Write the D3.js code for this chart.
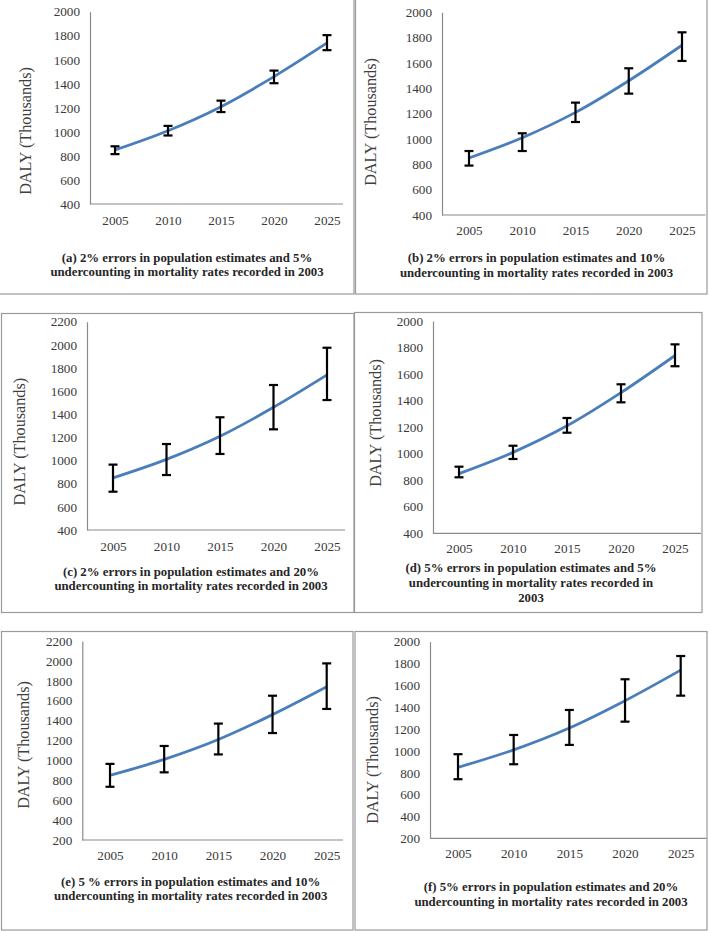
<!DOCTYPE html>
<html>
<head>
<meta charset="utf-8">
<script src="https://cdn.jsdelivr.net/npm/d3@7"></script>
<style>
  html, body { margin: 0; padding: 0; background: #fff; }
  svg { display: block; }
</style>
</head>
<body>
<svg id="chart" width="709" height="931"></svg>
<script>
// ---------------- DATA ----------------
const years = [2005, 2010, 2015, 2020, 2025];
const dalyMean = [850, 1010, 1210, 1460, 1740];

const upperA = [880, 1050, 1260, 1510, 1805];
const lowerA = [815, 970, 1165, 1405, 1680];
const upperB = [905, 1045, 1287, 1558, 1842];
const lowerB = [790, 905, 1134, 1358, 1616];
const upperC = [965, 1143, 1374, 1653, 1975];
const lowerC = [731, 875, 1057, 1270, 1523];
const upperD = [902, 1060, 1269, 1523, 1824];
const lowerD = [822, 960, 1158, 1387, 1659];
const upperE = [965, 1145, 1370, 1650, 1975];
const lowerE = [735, 880, 1060, 1275, 1517];
const upperF = [970, 1146, 1375, 1656, 1869];
const lowerF = [741, 878, 1055, 1268, 1506];

const yTicksA = [400, 600, 800, 1000, 1200, 1400, 1600, 1800, 2000];
const yTicksC = [400, 600, 800, 1000, 1200, 1400, 1600, 1800, 2000, 2200];
const yTicksE = [200, 400, 600, 800, 1000, 1200, 1400, 1600, 1800, 2000, 2200];
const yTicksF = [200, 400, 600, 800, 1000, 1200, 1400, 1600, 1800, 2000];

const yAxisTitle = "DALY (Thousands)";
const captionA = ["(a) 2% errors in population estimates and 5%", "undercounting in mortality rates recorded in 2003"];
const captionB = ["(b) 2% errors in population estimates and 10%", "undercounting in mortality rates recorded in 2003"];
const captionC = ["(c) 2% errors in population estimates and 20%", "undercounting in mortality rates recorded in 2003"];
const captionD = ["(d) 5% errors in population estimates and 5%", "undercounting in mortality rates recorded in", "2003"];
const captionE = ["(e) 5 % errors in population estimates and 10%", "undercounting in mortality rates recorded in 2003"];
const captionF = ["(f) 5% errors in population estimates and 20%", "undercounting in mortality rates recorded in 2003"];

// ---------------- LAYOUT (positions / styling only) ----------------
const panels = [
  { upper: upperA, lower: lowerA, ticks: yTicksA, caption: captionA,
    box: [-1, -1, 354, 294], axisX: 90, axisEnd: 343, yTop: 11.7, yBot: 204,
    xFirst: 115, xLast: 327, yl: [25, 131], tickY: 220, capX: 187, capY: [258, 272] },
  { upper: upperB, lower: lowerB, ticks: yTicksA, caption: captionB,
    box: [355.5, -1, 707, 294], axisX: 442, axisEnd: 705.5, yTop: 12.3, yBot: 215,
    xFirst: 469, xLast: 682, yl: [370.7, 122], tickY: 230, capX: 536.5, capY: [258, 272.7] },
  { upper: upperC, lower: lowerC, ticks: yTicksC, caption: captionC,
    box: [1.5, 313.5, 354, 612.5], axisX: 87, axisEnd: 345, yTop: 321.7, yBot: 530,
    xFirst: 113, xLast: 327, yl: [19.3, 441.7], tickY: 546, capX: 191, capY: [571.7, 586] },
  { upper: upperD, lower: lowerD, ticks: yTicksA, caption: captionD,
    box: [354.5, 312.5, 702, 612.5], axisX: 433, axisEnd: 701, yTop: 321, yBot: 533.3,
    xFirst: 459, xLast: 675, yl: [375.7, 423], tickY: 548.3, capX: 531, capY: [568, 583, 598] },
  { upper: upperE, lower: lowerE, ticks: yTicksE, caption: captionE,
    box: [1.5, 631.5, 353, 930], axisX: 82.3, axisEnd: 343, yTop: 641, yBot: 840,
    xFirst: 110, xLast: 326.7, yl: [23.3, 745], tickY: 855, capX: 190.7, capY: [881.7, 896] },
  { upper: upperF, lower: lowerF, ticks: yTicksF, caption: captionF,
    box: [355, 631.5, 707, 930], axisX: 430, axisEnd: 706.5, yTop: 641.7, yBot: 838.3,
    xFirst: 458, xLast: 680.7, yl: [372.3, 760], tickY: 853.3, capX: 551, capY: [886.7, 901.7] }
];

const svg = d3.select("#chart");
const serif = "'Liberation Serif', 'Times New Roman', serif";

panels.forEach(p => {
  const g = svg.append("g");

  // panel border
  g.append("rect")
    .attr("x", p.box[0]).attr("y", p.box[1])
    .attr("width", p.box[2] - p.box[0]).attr("height", p.box[3] - p.box[1])
    .attr("fill", "none").attr("stroke", "#9a9a9a").attr("stroke-width", 1.2);

  const x = d3.scalePoint().domain(years).range([p.xFirst, p.xLast]);
  const y = d3.scaleLinear().domain([p.ticks[0], p.ticks[p.ticks.length - 1]]).range([p.yBot, p.yTop]);

  // y axis
  const ya = g.append("g").attr("transform", `translate(${p.axisX},0)`)
    .call(d3.axisLeft(y).tickValues(p.ticks).tickSize(0).tickPadding(10).tickFormat(d3.format("d")));
  ya.select(".domain").attr("stroke", "#8a8a8a").attr("stroke-width", 1.2);
  ya.selectAll("text").attr("font-family", serif).attr("font-size", 13.2).attr("fill", "#3a3a3a");

  // x axis line
  g.append("line")
    .attr("x1", p.axisX).attr("x2", p.axisEnd)
    .attr("y1", y(p.ticks[0])).attr("y2", y(p.ticks[0]))
    .attr("stroke", "#8a8a8a").attr("stroke-width", 1.2);

  // x tick labels via axis
  const xa = g.append("g").attr("transform", `translate(0,${p.tickY})`)
    .call(d3.axisBottom(x).tickSize(0).tickPadding(0));
  xa.select(".domain").remove();
  xa.selectAll("text").attr("dy", "0.35em").attr("y", 0)
    .attr("font-family", serif).attr("font-size", 13.2).attr("fill", "#3a3a3a");

  // y axis title
  g.append("text")
    .attr("transform", `translate(${p.yl[0]},${p.yl[1]}) rotate(-90)`)
    .attr("text-anchor", "middle").attr("dy", "0.35em")
    .attr("font-family", serif).attr("font-size", 16.2).attr("fill", "#404040")
    .text(yAxisTitle);

  // line
  const pts = years.map((yr, i) => [x(yr), y(dalyMean[i])]);
  g.append("path")
    .attr("d", d3.line().curve(d3.curveCatmullRom.alpha(0.5))(pts))
    .attr("fill", "none").attr("stroke", "#4a7ebb").attr("stroke-width", 2.8);

  // error bars
  years.forEach((yr, i) => {
    const cx = x(yr), yu = y(p.upper[i]), yl = y(p.lower[i]);
    g.append("line").attr("x1", cx).attr("x2", cx).attr("y1", yu).attr("y2", yl)
      .attr("stroke", "#000").attr("stroke-width", 2.2);
    [yu, yl].forEach(yy => g.append("line")
      .attr("x1", cx - 4.5).attr("x2", cx + 4.5).attr("y1", yy).attr("y2", yy)
      .attr("stroke", "#000").attr("stroke-width", 2.2));
  });

  // caption
  const cap = g.append("text").attr("text-anchor", "middle")
    .attr("font-family", serif).attr("font-size", 12.8).attr("font-weight", "bold").attr("fill", "#262626");
  p.caption.forEach((line, i) => {
    cap.append("tspan").attr("x", p.capX).attr("y", p.capY[i]).attr("dy", "0.35em").text(line);
  });
});
</script>
</body>
</html>
